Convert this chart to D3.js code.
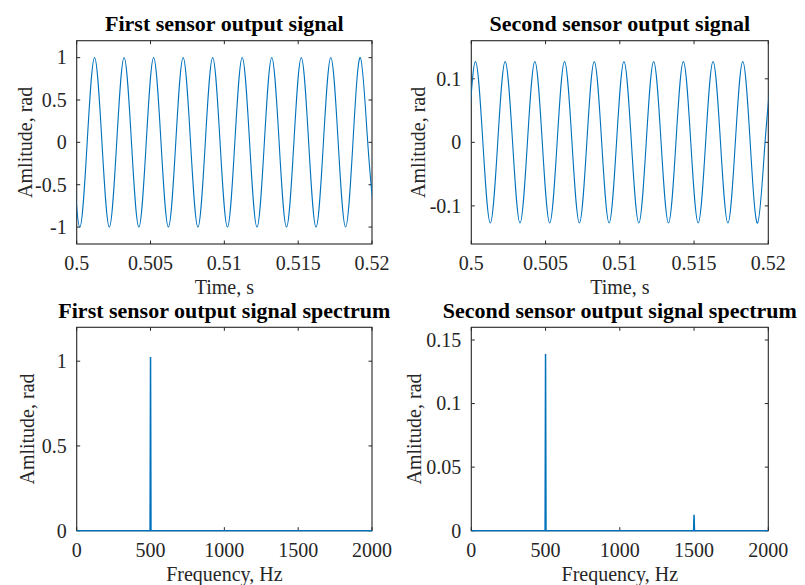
<!DOCTYPE html>
<html>
<head>
<meta charset="utf-8">
<script src="https://cdn.jsdelivr.net/npm/d3@7"></script>
<style>
  body { margin: 0; background: #fff; }
  svg { display: block; font-family: "Liberation Serif", "Times New Roman", serif; }
</style>
</head>
<body>
<div id="chart"></div>
<script>
// first sensor, time domain (extrema and zero crossings,
// one point on each side runs just past the visible window, clipped away)
const time1 = [0.49971,
  0.50021, 0.50071, 0.50121, 0.50171, 0.50221, 0.50271, 0.50321, 0.50371,
  0.50421, 0.50471, 0.50521, 0.50571, 0.50621, 0.50671, 0.50721, 0.50771,
  0.50821, 0.50871, 0.50921, 0.50971, 0.51021, 0.51071, 0.51121, 0.51171,
  0.51221, 0.51271, 0.51321, 0.51371, 0.51421, 0.51471, 0.51521, 0.51571,
  0.51621, 0.51671, 0.51721, 0.51771, 0.51821, 0.51871, 0.51921, 0.51971,
  0.52021];
const amp1 = [0,
  -1, 0, 1, 0, -1, 0, 1, 0, -1, 0, 1, 0, -1, 0, 1, 0, -1, 0, 1, 0,
  -1, 0, 1, 0, -1, 0, 1, 0, -1, 0, 1, 0, -1, 0, 1, 0, -1, 0, 1, 0,
  -1];

// second sensor, time domain
const time2 = [0.49978,
  0.50028, 0.50078, 0.50128, 0.50178, 0.50228, 0.50278, 0.50328, 0.50378,
  0.50428, 0.50478, 0.50528, 0.50578, 0.50628, 0.50678, 0.50728, 0.50778,
  0.50828, 0.50878, 0.50928, 0.50978, 0.51028, 0.51078, 0.51128, 0.51178,
  0.51228, 0.51278, 0.51328, 0.51378, 0.51428, 0.51478, 0.51528, 0.51578,
  0.51628, 0.51678, 0.51728, 0.51778, 0.51828, 0.51878, 0.51928, 0.51978,
  0.52028];
const amp2 = [0,
  0.127, 0, -0.127, 0, 0.127, 0, -0.127, 0, 0.127, 0, -0.127, 0,
  0.127, 0, -0.127, 0, 0.127, 0, -0.127, 0, 0.127, 0, -0.127, 0,
  0.127, 0, -0.127, 0, 0.127, 0, -0.127, 0, 0.127, 0, -0.127, 0,
  0.127, 0, -0.127, 0,
  0.127];

// spectra
const freq1 = [0, 497, 500, 503, 2000];
const spec1 = [0, 0, 1.025, 0, 0];
const freq2 = [0, 497, 500, 503, 1497, 1500, 1503, 2000];
const spec2 = [0, 0, 0.139, 0, 0, 0.0125, 0, 0];

// ticks
const timeTicks = [0.5, 0.505, 0.51, 0.515, 0.52];
const freqTicks = [0, 500, 1000, 1500, 2000];
const yTicks1 = [-1, -0.5, 0, 0.5, 1];
const yTicks2 = [-0.1, 0, 0.1];
const yTicks3 = [0, 0.5, 1];
const yTicks4 = [0, 0.05, 0.1, 0.15];

const width = 805, height = 585;
const lineColor = "#0072BD";
const axisColor = "#262626";

const svg = d3.select("#chart").append("svg")
  .attr("width", width)
  .attr("height", height);

svg.append("rect").attr("width", width).attr("height", height).attr("fill", "#fff");

let clipId = 0;

function panel({x0, x1, y0, y1, xDomain, yDomain, xTicks, yTicks, xs, ys,
                title, titleY, xLabel, yLabelX, curve, strokeWidth}) {
  const x = d3.scaleLinear().domain(xDomain).range([x0, x1]);
  const y = d3.scaleLinear().domain(yDomain).range([y1, y0]);
  const g = svg.append("g");

  // box
  g.append("rect")
    .attr("x", x0).attr("y", y0)
    .attr("width", x1 - x0).attr("height", y1 - y0)
    .attr("fill", "none")
    .attr("stroke", axisColor)
    .attr("stroke-width", 1.1);

  // ticks, mirrored on top and right, pointing inward
  const tl = 3.5;
  xTicks.forEach(v => {
    g.append("line").attr("x1", x(v)).attr("x2", x(v)).attr("y1", y1).attr("y2", y1 - tl)
      .attr("stroke", axisColor);
    g.append("line").attr("x1", x(v)).attr("x2", x(v)).attr("y1", y0).attr("y2", y0 + tl)
      .attr("stroke", axisColor);
    g.append("text")
      .attr("x", x(v)).attr("y", y1 + 26)
      .attr("text-anchor", "middle")
      .attr("font-size", 20)
      .attr("fill", axisColor)
      .text(String(v));
  });
  yTicks.forEach(v => {
    g.append("line").attr("x1", x0).attr("x2", x0 + tl).attr("y1", y(v)).attr("y2", y(v))
      .attr("stroke", axisColor);
    g.append("line").attr("x1", x1).attr("x2", x1 - tl).attr("y1", y(v)).attr("y2", y(v))
      .attr("stroke", axisColor);
    g.append("text")
      .attr("x", x0 - 10).attr("y", y(v))
      .attr("dy", "0.34em")
      .attr("text-anchor", "end")
      .attr("font-size", 20)
      .attr("fill", axisColor)
      .text(String(v));
  });

  // data
  const id = "clip" + (clipId++);
  svg.append("clipPath").attr("id", id)
    .append("rect").attr("x", x0).attr("y", y0 - 1).attr("width", x1 - x0).attr("height", y1 - y0 + 2);

  const line = d3.line()
    .x(i => x(xs[i]))
    .y(i => y(ys[i]))
    .curve(curve);

  g.append("path")
    .attr("clip-path", `url(#${id})`)
    .attr("d", line(d3.range(xs.length)))
    .attr("fill", "none")
    .attr("stroke", lineColor)
    .attr("stroke-width", strokeWidth);

  // labels
  g.append("text")
    .attr("x", (x0 + x1) / 2).attr("y", titleY)
    .attr("text-anchor", "middle")
    .attr("font-size", 22)
    .attr("font-weight", "bold")
    .attr("fill", "#000")
    .text(title);

  g.append("text")
    .attr("x", (x0 + x1) / 2).attr("y", y1 + 50)
    .attr("text-anchor", "middle")
    .attr("font-size", 20)
    .attr("fill", axisColor)
    .text(xLabel);

  g.append("text")
    .attr("transform", `translate(${yLabelX},${(y0 + y1) / 2}) rotate(-90)`)
    .attr("text-anchor", "middle")
    .attr("font-size", 20)
    .attr("fill", axisColor)
    .text("Amlitude, rad");
}

panel({
  x0: 76.7, x1: 372, y0: 40.7, y1: 244,
  xDomain: [0.5, 0.52], yDomain: [-1.2, 1.2],
  xTicks: timeTicks, yTicks: yTicks1,
  xs: time1, ys: amp1,
  title: "First sensor output signal", titleY: 31,
  xLabel: "Time, s", yLabelX: 32,
  curve: d3.curveNatural, strokeWidth: 1.1
});

panel({
  x0: 471.3, x1: 768.3, y0: 40.7, y1: 244,
  xDomain: [0.5, 0.52], yDomain: [-0.16, 0.16],
  xTicks: timeTicks, yTicks: yTicks2,
  xs: time2, ys: amp2,
  title: "Second sensor output signal", titleY: 31,
  xLabel: "Time, s", yLabelX: 425,
  curve: d3.curveNatural, strokeWidth: 1.1
});

panel({
  x0: 76.7, x1: 372, y0: 327.3, y1: 530.7,
  xDomain: [0, 2000], yDomain: [0, 1.2],
  xTicks: freqTicks, yTicks: yTicks3,
  xs: freq1, ys: spec1,
  title: "First sensor output signal spectrum", titleY: 318,
  xLabel: "Frequency, Hz", yLabelX: 34,
  curve: d3.curveLinear, strokeWidth: 1.5
});

panel({
  x0: 471.3, x1: 768.3, y0: 327.3, y1: 530.7,
  xDomain: [0, 2000], yDomain: [0, 0.16],
  xTicks: freqTicks, yTicks: yTicks4,
  xs: freq2, ys: spec2,
  title: "Second sensor output signal spectrum", titleY: 318,
  xLabel: "Frequency, Hz", yLabelX: 421,
  curve: d3.curveLinear, strokeWidth: 1.5
});
</script>
</body>
</html>
